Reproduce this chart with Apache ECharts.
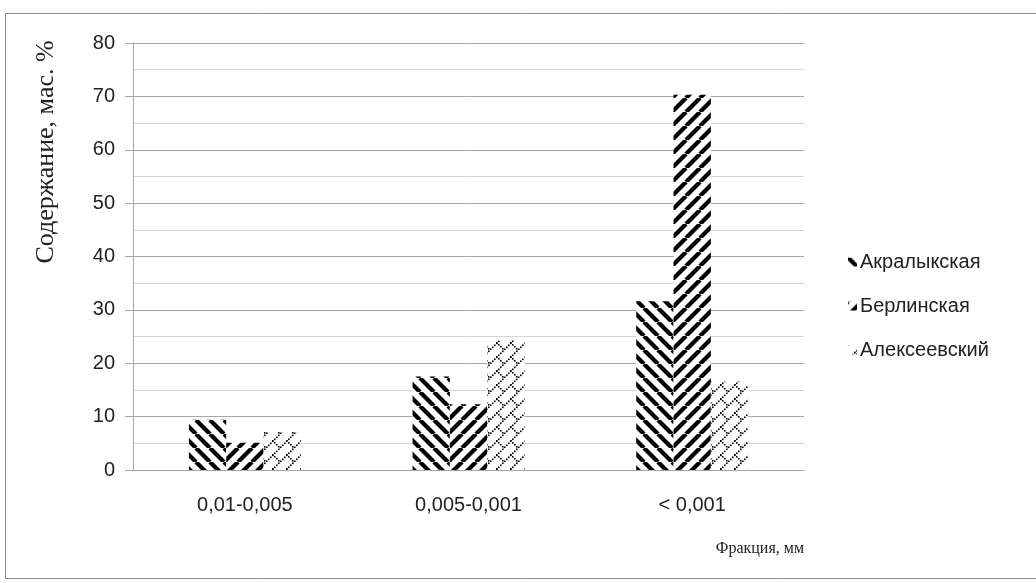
<!DOCTYPE html>
<html>
<head>
<meta charset="utf-8">
<script src="https://cdn.jsdelivr.net/npm/echarts@6/dist/echarts.min.js"></script>
<style>
  html, body { margin: 0; padding: 0; background: #fff; }
  #chart { width: 1036px; height: 583px; }
</style>
</head>
<body>
<div id="chart"></div>
<script>
// Fractions (x axis) and content, mass % per deposit
const categories = ['0,01-0,005', '0,005-0,001', '< 0,001'];
const seriesNames = ['Акралыкская', 'Берлинская', 'Алексеевский'];
const akralykskaya = [9.4, 17.5, 31.6];
const berlinskaya = [5.1, 12.3, 70.3];
const alekseevsky = [7.1, 24.3, 16.6];
const yTicks = [0, 10, 20, 30, 40, 50, 60, 70, 80];

// Hatch fills drawn on small tiles
function makeTile(size, draw) {
  const c = document.createElement('canvas');
  c.width = size; c.height = size;
  const ctx = c.getContext('2d');
  ctx.fillStyle = '#fff';
  ctx.fillRect(0, 0, size, size);
  draw(ctx, size);
  return { image: c, repeat: 'repeat' };
}
const P = 14;
// wide downward diagonal
const hatchDown = makeTile(P, (ctx, s) => {
  ctx.strokeStyle = '#000';
  ctx.lineWidth = 4.2;
  for (const o of [-s, 0, s]) {
    ctx.beginPath(); ctx.moveTo(o, 0); ctx.lineTo(o + s, s); ctx.stroke();
  }
});
// wide upward diagonal
const hatchUp = makeTile(P, (ctx, s) => {
  ctx.strokeStyle = '#000';
  ctx.lineWidth = 4.2;
  for (const o of [-s, 0, s]) {
    ctx.beginPath(); ctx.moveTo(o, s); ctx.lineTo(o + s, 0); ctx.stroke();
  }
});
// dotted shingle: dotted rising diagonals with short falling hooks
const hatchDots = makeTile(P, (ctx, s) => {
  ctx.fillStyle = '#000';
  for (let i = 0; i < s; i += 2) {
    ctx.fillRect(i, s - 1.5 - i, 1.6, 1.6);
  }
  for (let i = 0; i <= 6; i += 2) {
    ctx.fillRect(s / 2 + i - 1, s / 2 + i - 1, 1.6, 1.6);
  }
});

const fills = [hatchDown, hatchUp, hatchDots];
const values = [akralykskaya, berlinskaya, alekseevsky];

const chart = echarts.init(document.getElementById('chart'), null, { renderer: 'canvas' });

const labelFont = 'Liberation Sans';
const serifFont = 'Liberation Serif';

chart.setOption({
  animation: false,
  backgroundColor: '#fff',
  grid: { left: 133, right: 232, top: 43, bottom: 113, containLabel: false },
  xAxis: {
    type: 'category',
    data: categories,
    axisLine: { show: true, lineStyle: { color: '#a6a6a6', width: 1 } },
    axisTick: { show: false },
    axisLabel: { color: '#222', fontFamily: labelFont, fontSize: 20, margin: 25 }
  },
  yAxis: {
    type: 'value',
    min: 0, max: 80, interval: 10,
    axisLine: { show: true, lineStyle: { color: '#a6a6a6' } },
    axisTick: { show: true, length: 8, lineStyle: { color: '#a6a6a6' } },
    axisLabel: {
      color: '#222', fontFamily: labelFont, fontSize: 20, margin: 18,
      formatter: v => (yTicks.includes(v) ? String(v) : '')
    },
    splitLine: { show: true, lineStyle: { color: '#a6a6a6', width: 1 } },
    minorTick: { show: false, splitNumber: 2 },
    minorSplitLine: { show: true, lineStyle: { color: '#d4d4d4', width: 1 } }
  },
  legend: {
    orient: 'vertical',
    left: 843, top: 247,
    itemWidth: 9, itemHeight: 9,
    itemGap: 24,
    icon: 'rect',
    textStyle: { color: '#222', fontFamily: labelFont, fontSize: 20, padding: [0, 0, 0, -2] },
    data: seriesNames
  },
  series: seriesNames.map((name, i) => ({
    name,
    type: 'bar',
    data: values[i],
    barGap: '0%',
    barCategoryGap: '50%',
    itemStyle: { color: fills[i] }
  })),
  graphic: [
    {
      type: 'rect', silent: true,
      shape: { x: 5.5, y: 13.5, width: 1100, height: 565 },
      style: { fill: 'none', stroke: '#8c8c8c', lineWidth: 1 }
    },
    {
      type: 'text', x: 46, y: 152, rotation: Math.PI / 2,
      style: {
        text: 'Содержание, мас. %', fontFamily: serifFont, fontSize: 26,
        fill: '#222', align: 'center', verticalAlign: 'middle'
      }
    },
    {
      type: 'text', x: 804, y: 549,
      style: {
        text: 'Фракция, мм', fontFamily: serifFont, fontSize: 16,
        fill: '#222', align: 'right', verticalAlign: 'middle'
      }
    }
  ]
});
</script>
</body>
</html>
